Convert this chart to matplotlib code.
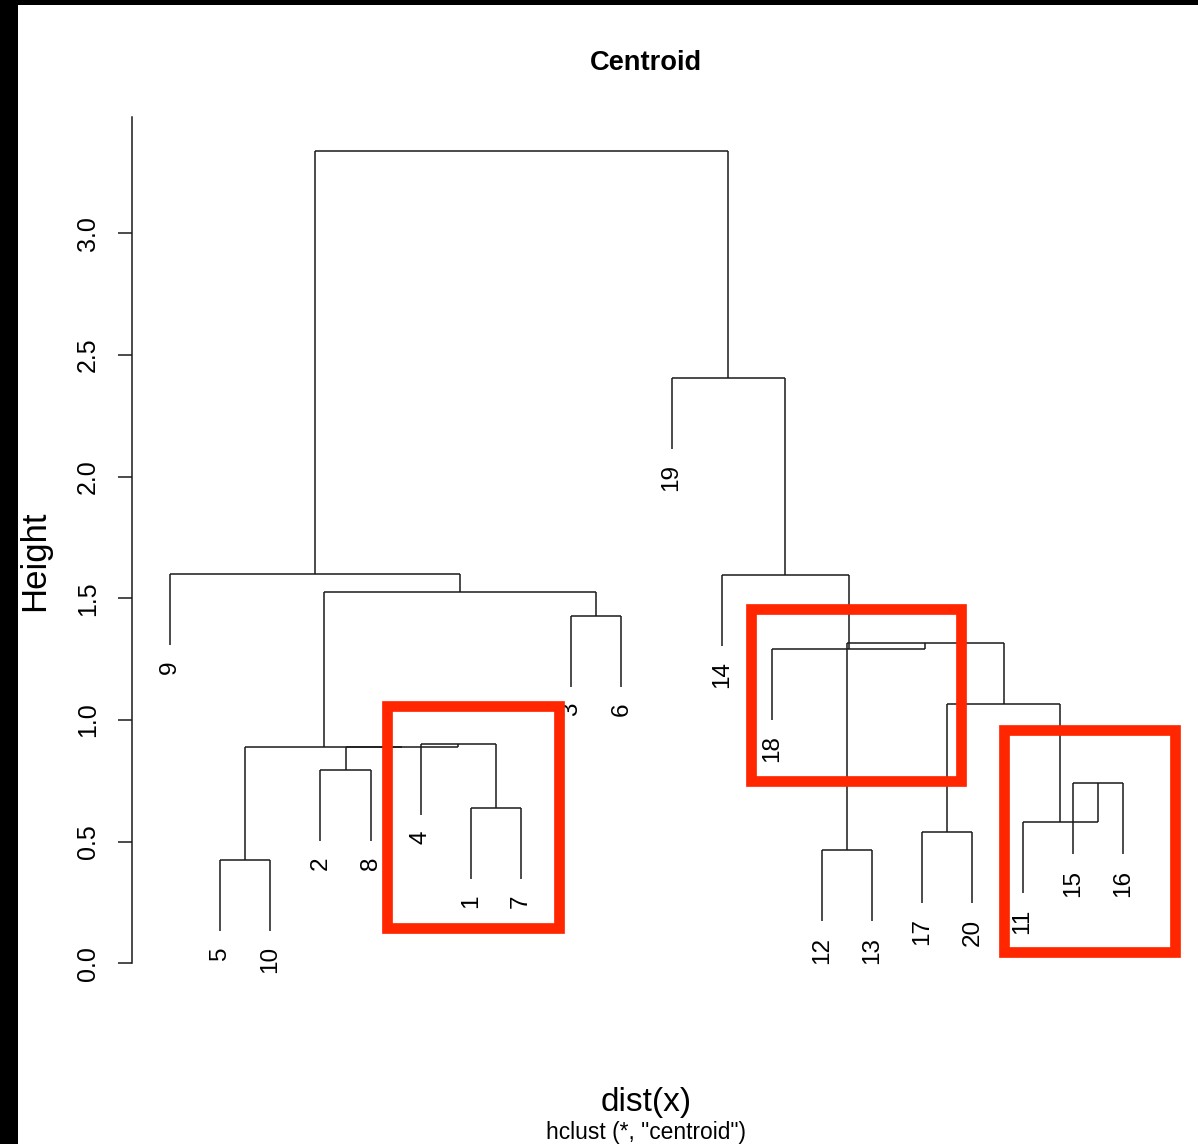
import matplotlib
matplotlib.use("Agg")
import matplotlib.pyplot as plt
from matplotlib.patches import Rectangle

plt.rcParams['font.family'] = ['Liberation Sans', 'DejaVu Sans']

# hclust result: merges in R style (negative = leaf label, positive = earlier merge, 1-based)
merge_left = [-5, -12, -17, -15, -11, -1, -2, -4, 7, 1, 3, 2, -18, -3, 10, -9, -14, -19, 16]
merge_right = [-10, -13, -20, -16, 4, -7, -8, 6, 8, 9, 5, 11, 12, -6, 14, 15, 13, 17, 18]
merge_height = [0.425, 0.464, 0.540, 0.740, 0.581, 0.637, 0.795, 0.901, 0.889, 0.890,
                1.067, 1.318, 1.292, 1.427, 1.525, 1.601, 1.597, 2.406, 3.339]

yticks = [0.0, 0.5, 1.0, 1.5, 2.0, 2.5, 3.0]

# highlight boxes drawn over the plot (x in leaf units, y in height)
box_x0 = [5.33, 12.59, 17.62]
box_x1 = [8.75, 16.77, 21.04]
box_y0 = [0.145, 0.748, 0.046]
box_y1 = [1.057, 1.457, 0.957]

W, H = 1198, 1144
fig = plt.figure(figsize=(W / 100, H / 100), dpi=100)
fig.patch.set_facecolor('white')

ax_left, ax_right, ax_top, ax_bot = 131.9, 1161.0, 117.0, 1030.0
ax = fig.add_axes([ax_left / W, 1 - ax_bot / H, (ax_right - ax_left) / W, (ax_bot - ax_top) / H])
n_leaf = len(merge_height) + 1
pad = 0.04 * (n_leaf - 1)
ax.set_xlim(1 - pad, n_leaf + pad)
y0px, ppu = 963.3, 243.3
ax.set_ylim((y0px - ax_bot) / ppu, (y0px - ax_top) / ppu)

# leaf order by left-first walk
def walk(k):
    out = []
    for c in (merge_left[k - 1], merge_right[k - 1]):
        out += [c] if c < 0 else walk(c)
    return out

order = walk(len(merge_height))
leaf_x = {lab: i + 1 for i, lab in enumerate(order)}
hang = 0.1 * (max(merge_height) - min(merge_height))

node_x = {}
lc = '#1a1a1a'
lw = 1.1
for k in range(1, len(merge_height) + 1):
    h = merge_height[k - 1]
    xs = []
    for c in (merge_left[k - 1], merge_right[k - 1]):
        if c < 0:
            x = leaf_x[c]
            yb = h - hang
            ax.text(x, yb - 0.064, str(-c), rotation=90, rotation_mode='anchor',
                    ha='right', va='center', fontsize=17.5, color='black')
        else:
            x = node_x[c]
            yb = merge_height[c - 1]
        ax.plot([x, x], [yb, h], color=lc, lw=lw, solid_capstyle='butt')
        xs.append(x)
    ax.plot(xs, [h, h], color=lc, lw=lw, solid_capstyle='butt')
    node_x[k] = (xs[0] + xs[1]) / 2

for s in ['top', 'right', 'bottom']:
    ax.spines[s].set_visible(False)
ax.spines['left'].set_bounds(0, ax.get_ylim()[1])
ax.spines['left'].set_color(lc)
ax.spines['left'].set_linewidth(lw)
ax.set_xticks([])
ax.set_yticks(yticks)
ax.set_yticklabels(['%.1f' % v for v in yticks], rotation=90, va='center', fontsize=18)
ax.tick_params(axis='y', length=10, width=lw, color=lc, pad=13)
ax.patch.set_alpha(0)

for x0, x1, y0, y1 in zip(box_x0, box_x1, box_y0, box_y1):
    ax.add_patch(Rectangle((x0, y0), x1 - x0, y1 - y0, fill=False, edgecolor='#ff2600',
                           lw=7.7, joinstyle='miter', clip_on=False, zorder=5))

fig.text(646 / W, 1 - 63 / H, 'Centroid', ha='center', va='center', fontsize=19.6, fontweight='bold')
fig.text(44 / W, 1 - 561 / H, 'Height', rotation=90, rotation_mode='anchor',
         ha='center', va='baseline', fontsize=25)
fig.text(646 / W, 1 - 1102 / H, 'dist(x)', ha='center', va='center', fontsize=24)
fig.text(646 / W, 1 - 1132 / H, 'hclust (*, "centroid")', ha='center', va='center', fontsize=16.4)

# black screen edge on top and left
fig.patches.append(Rectangle((0, 1 - 5 / H), 1, 5 / H, transform=fig.transFigure,
                             facecolor='black', edgecolor='none', zorder=10))
fig.patches.append(Rectangle((0, 0), 18 / W, 1, transform=fig.transFigure,
                             facecolor='black', edgecolor='none', zorder=10))

fig.savefig('out.png', dpi=100)
